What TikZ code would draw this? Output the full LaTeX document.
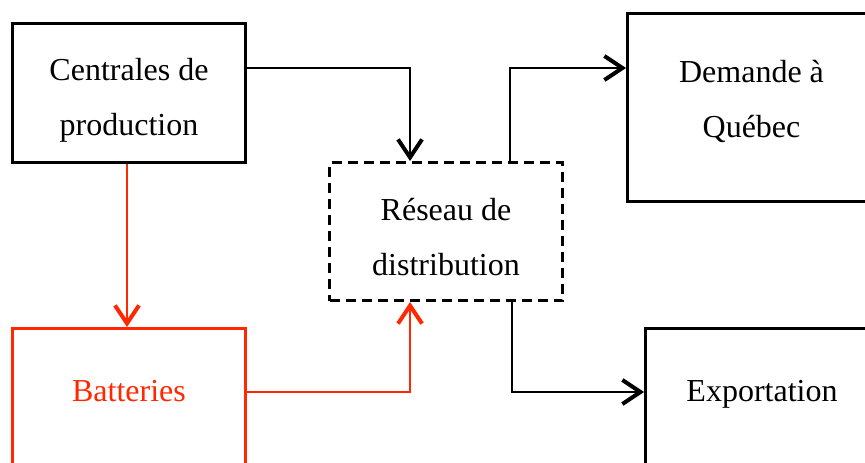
\documentclass[tikz,border=0pt]{standalone}
\usepackage{fontspec}
\setmainfont{Liberation Serif}
\usetikzlibrary{arrows.meta,calc}
\definecolor{rred}{RGB}{255,40,0}
\begin{document}
\begin{tikzpicture}[x=1pt,y=-1pt,
  box/.style={draw, line width=3pt, inner sep=0pt, anchor=north west},
  dashbox/.style={box, dash pattern=on 10pt off 6pt},
  txt/.style={align=center, font=\fontsize{32}{55}\selectfont, inner sep=0pt},
  arr/.style={line width=2.4pt, -{Straight Barb[length=18pt,width=24pt,line width=4pt]}},
]
\useasboundingbox (0,0) rectangle (865,463);
\clip (0,0) rectangle (865,463);
\fill[white] (0,0) rectangle (865,463);

\node[box, minimum width=233pt, minimum height=139pt] (C) at (11,22) {};
\node[dashbox, minimum width=233pt, minimum height=138pt] (R) at (328,161) {};
\node[box, minimum width=248pt, minimum height=188pt] (D) at (626,12) {};
\node[box, draw=rred, minimum width=233pt, minimum height=139pt] (B) at (11,327) {};
\node[box, minimum width=233pt, minimum height=139pt] (E) at (644,327) {};

\node[txt] (Ct) at ($(C.center)+(0,7.5)$) {Centrales de\\production};
\node[txt] (Rt) at ($(R.center)+(0,6)$) {Réseau de\\distribution};
\node[txt] (Dt) at ($(D.center)+(0,-6.5)$) {Demande à\\Québec};
\node[txt, text=rred] (Bt) at ($(B.center)+(0,-7)$) {Batteries};
\node[txt] (Et) at ($(E.center)+(0,-4)$) {Exportation};

\draw[arr] (C.east |- 0,68) -| (410,0 |- R.north);
\draw[arr] (510,0 |- R.north) |- (D.west |- 0,68);
\draw[arr, rred] (127,0 |- C.south) -- (127,0 |- B.north);
\draw[arr, rred] (B.east |- 0,392) -| (410,0 |- R.south);
\draw[arr] (512,0 |- R.south) |- (E.west |- 0,392);
\end{tikzpicture}
\end{document}
